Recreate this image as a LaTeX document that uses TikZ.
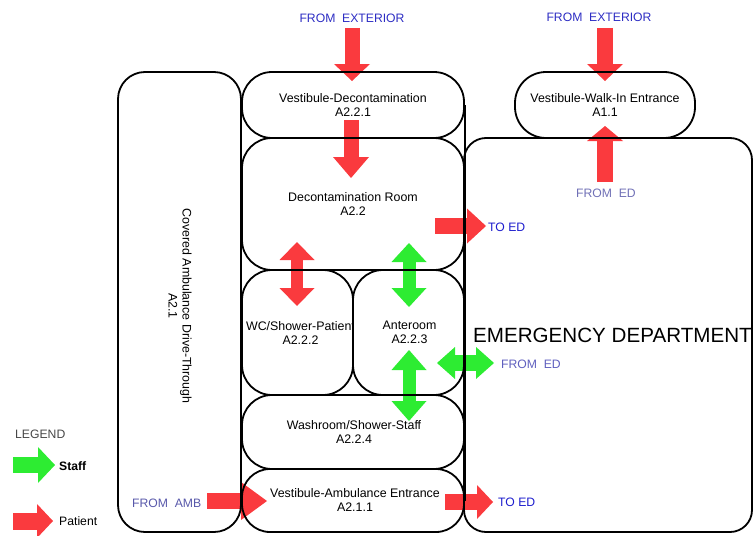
\documentclass[tikz,border=0pt]{standalone}
\usepackage{fontspec}
\setmainfont{Liberation Sans}
\usetikzlibrary{arrows.meta}

\definecolor{patred}{RGB}{250,58,62}
\definecolor{stfgreen}{RGB}{45,236,50}
\definecolor{extblue}{RGB}{45,45,195}
\definecolor{edlav}{RGB}{112,112,182}
\definecolor{edblue}{RGB}{95,95,190}
\definecolor{ambblue}{RGB}{88,88,170}
\definecolor{toblue}{RGB}{28,28,205}

\newcommand\roomfont{\fontsize{12.4}{14}\selectfont}
\newcommand\labfont{\fontsize{12.2}{14}\selectfont}
\newcommand\widegap{\hspace{0.55em}}

\begin{document}
\begin{tikzpicture}[x=1pt,y=-1pt,
  room/.style={draw, line width=1.8pt, inner sep=0pt, rounded corners=#1},
  room/.default=30pt,
  roomtext/.style={inner sep=0pt, align=center, font=\roomfont},
  wall/.style={line width=1.8pt},
  lbl/.style={inner sep=0pt, font=\labfont},
  patient/.style={draw=patred, line width=#1},
  patient/.default=16pt,
  staff/.style={draw=stfgreen, line width=#1},
  staff/.default=16pt,
  blockhead/.style 2 args={>={Triangle[width=#1,length=#2,line width=0pt]}},
]
\useasboundingbox (0,0) rectangle (754,535);

% ---- flow arrows (drawn first so that the walls lie over them)
\coordinate (a1s) at (352,28);  \coordinate (a1e) at (352,81);
\coordinate (a2s) at (351,120); \coordinate (a2e) at (351,178);
\coordinate (a3s) at (297,242); \coordinate (a3e) at (297,306);
\coordinate (a4s) at (409,243); \coordinate (a4e) at (409,307);
\coordinate (a5s) at (409,350); \coordinate (a5e) at (409,421);
\coordinate (a6s) at (437,363); \coordinate (a6e) at (494,363);
\coordinate (a7s) at (435,226); \coordinate (a7e) at (486,226);
\coordinate (a8s) at (605,182); \coordinate (a8e) at (605,126);
\coordinate (a9s) at (605,28);  \coordinate (a9e) at (605,81);
\coordinate (a10s) at (207,501); \coordinate (a10e) at (267,501);
\coordinate (a11s) at (445,502); \coordinate (a11e) at (493,502);
\coordinate (k1s) at (13,465);  \coordinate (k1e) at (55,465);
\coordinate (k2s) at (13,521);  \coordinate (k2e) at (53,521);

\draw[patient=15pt, blockhead={36pt}{17pt}, ->] (a1s) -- (a1e);
\draw[patient=15pt, blockhead={36pt}{21pt}, ->] (a2s) -- (a2e);
\draw[patient=12pt, blockhead={35pt}{18pt}, <->] (a3s) -- (a3e);
\draw[staff=13pt, blockhead={35pt}{19pt}, <->] (a4s) -- (a4e);
\draw[staff=13pt, blockhead={35pt}{20pt}, <->] (a5s) -- (a5e);
\draw[staff=16pt, blockhead={32pt}{18pt}, <->] (a6s) -- (a6e);
\draw[patient, blockhead={35pt}{19pt}, ->] (a7s) -- (a7e);
\draw[patient, blockhead={36pt}{15pt}, ->] (a8s) -- (a8e);
\draw[patient, blockhead={36pt}{17pt}, ->] (a9s) -- (a9e);
\draw[patient, blockhead={38pt}{26pt}, ->] (a10s) -- (a10e);
\draw[patient, blockhead={34pt}{16pt}, ->] (a11s) -- (a11e);
\draw[staff, blockhead={36pt}{17pt}, ->] (k1s) -- (k1e);
\draw[patient=17pt, blockhead={34pt}{16pt}, ->] (k2s) -- (k2e);

% ---- rooms
\node[room=27pt, minimum width=123pt, minimum height=460pt] (cadt) at (179.5,302) {};
\node[roomtext, rotate=-90] (cadtlabel) at (180,306) {Covered Ambulance Drive-Through\\A2.1};

\node[room=22pt, minimum width=288pt, minimum height=394pt] (ed) at (608,335) {};
\node[room=31pt, minimum width=180pt, minimum height=66pt] (vwalk) at (605,105) {};
\node[roomtext] (vwalklabel) at (vwalk) {Vestibule-Walk-In Entrance\\A1.1};

\node[room, minimum width=222pt, minimum height=66pt] (vdecon) at (353,105) {};
\node[room, minimum width=222pt, minimum height=132pt] (decon) at (353,204) {};
\node[room, minimum width=111pt, minimum height=125pt] (wc) at (297.5,332.5) {};
\node[room, minimum width=111pt, minimum height=125pt] (ante) at (408.5,332.5) {};
\node[room, minimum width=222pt, minimum height=74pt] (wash) at (353,432) {};
\node[room=28pt, minimum width=222pt, minimum height=63pt] (vamb) at (353,500.5) {};

% straight side walls of the decontamination block
\draw[wall] (vdecon.west) -- (vamb.west);
\draw[wall] (vdecon.east) -- (vamb.east);

\node[roomtext] (vdeconlabel) at (vdecon) {Vestibule-Decontamination\\A2.2.1};
\node[roomtext] (deconlabel) at (decon) {Decontamination Room\\A2.2};
\begin{scope}
  \clip (wc.south west) rectangle (352.5,270);
  \node[roomtext] (wclabel) at (300.5,333.5) {WC/Shower-Patient\\A2.2.2};
\end{scope}
\node[roomtext] (antelabel) at (409.5,332.5) {Anteroom\\A2.2.3};
\node[roomtext] (washlabel) at (354,432) {Washroom/Shower-Staff\\A2.2.4};
\node[roomtext] (vamblabel) at (355,500.5) {Vestibule-Ambulance Entrance\\A2.1.1};

\node[inner sep=0pt, anchor=west, font=\fontsize{20.6}{24}\selectfont] (edlabel) at (473,335) {EMERGENCY DEPARTMENT};

% ---- flow labels
\node[lbl, text=extblue] (fromext1) at (352,18) {FROM\widegap EXTERIOR};
\node[lbl, text=extblue] (fromext2) at (599,17) {FROM\widegap EXTERIOR};
\node[lbl, text=edlav] (fromed1) at (606,193) {FROM\widegap ED};
\node[lbl, text=toblue, anchor=west] (toed1) at (488,227) {TO ED};
\node[lbl, text=edblue, anchor=west] (fromed2) at (501,364) {FROM\widegap ED};
\node[lbl, text=ambblue, anchor=west] (fromamb) at (132,503) {FROM\widegap AMB};
\node[lbl, text=toblue, anchor=west] (toed2) at (498,502) {TO ED};

% ---- legend
\node[lbl, text=black!72, anchor=west] (legendtitle) at (15,434) {LEGEND};
\node[lbl, anchor=west, font=\labfont\bfseries] (staffkey) at (59,466) {Staff};
\node[lbl, anchor=west] (patientkey) at (59,521) {Patient};
\end{tikzpicture}
\end{document}
